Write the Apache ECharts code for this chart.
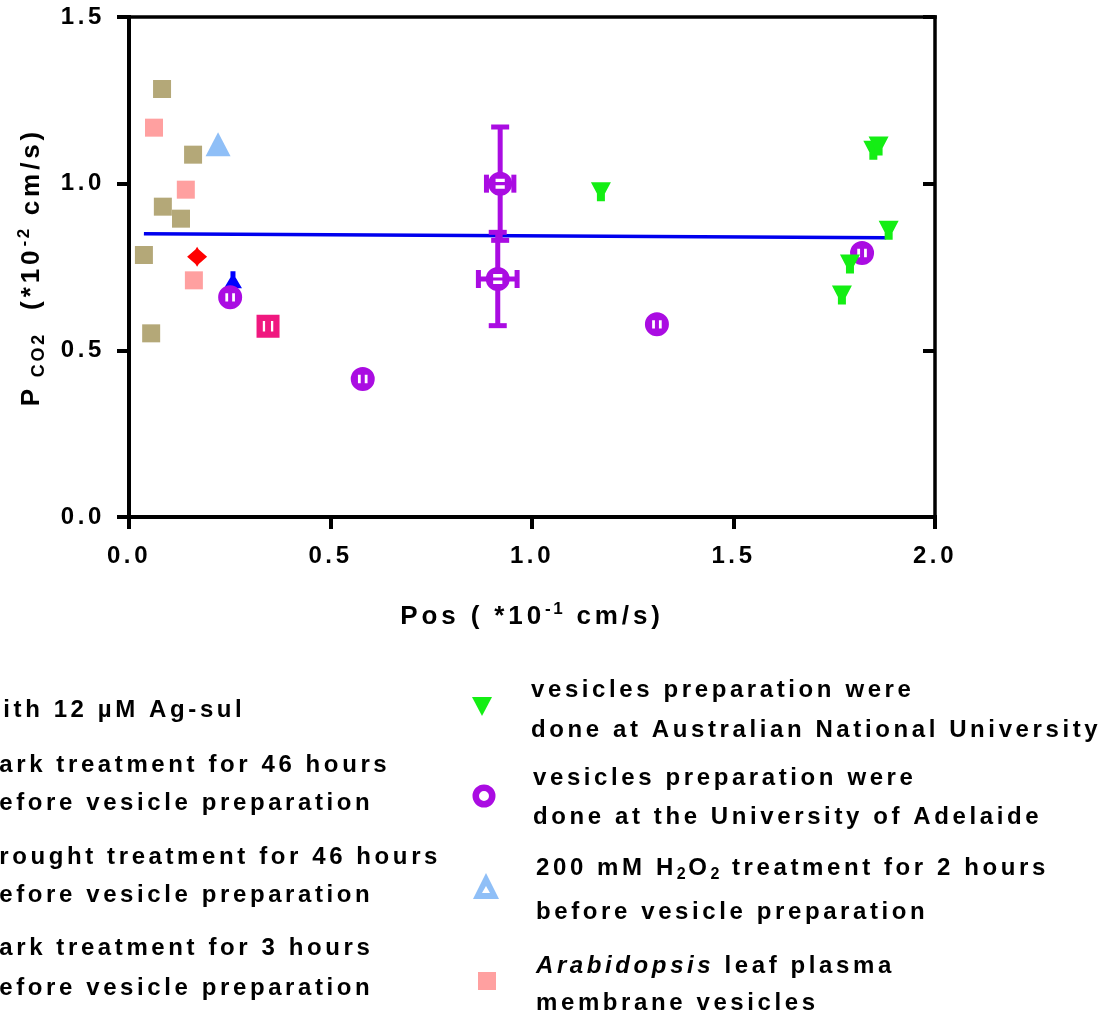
<!DOCTYPE html>
<html><head><meta charset="utf-8">
<script src="https://cdn.jsdelivr.net/npm/echarts@6/dist/echarts.min.js"></script>
<style>html,body{margin:0;padding:0;background:#fff;overflow:hidden}#c{width:1102px;height:1014px}</style>
</head><body><div id="c"></div>
<script>
// ---------- data ----------
const xTicks = [0, 0.5, 1.0, 1.5, 2.0];
const yTicks = [0, 0.5, 1.0, 1.5];
const tanPts = [[0.082,1.284],[0.159,1.087],[0.084,0.931],[0.129,0.895],[0.037,0.786],[0.055,0.551]];
const pinkPts = [[0.062,1.168],[0.141,0.982],[0.161,0.710]];
const h2o2Pts = [[0.221,1.118]];
const redPts = [[0.169,0.781]];
const bluePts = [[0.258,0.712]];
const magentaPts = [[0.345,0.572]];
const adelaidePts = [[0.251,0.659],[0.580,0.414],[1.310,0.578],[1.819,0.792]];
// x, y, x error, y error
const adelaideMeanPts = [[0.921,1.000,0.034,0.170],[0.915,0.714,0.048,0.140]];
const anuPts = [[1.171,0.976],[1.847,1.100],[1.860,1.113],[1.885,0.860],[1.789,0.759],[1.769,0.666]];
const fitLine = [[0.037,0.850],[1.878,0.838]];
const legendLeftLines = ["with 12 \u00b5M Ag-sul","dark treatment for 46 hours","before vesicle preparation","drought treatment for 46 hours","before vesicle preparation","dark treatment for 3 hours","before vesicle preparation"];
const legendRightLines = ["vesicles preparation were","done at Australian National University","vesicles preparation were","done at the University of Adelaide","200 mM H{sub|2}O{sub|2} treatment for 2 hours","before vesicle preparation","{i|Arabidopsis} leaf plasma","membrane vesicles"];

// ---------- styles ----------
const LS_EM = 0.15;
(function(){
  const P = CanvasRenderingContext2D.prototype;
  function setLS(ctx){
    const m = /(\d+(?:\.\d+)?)px/.exec(ctx.font);
    const size = m ? parseFloat(m[1]) : 12;
    try { ctx.letterSpacing = (size*LS_EM).toFixed(2)+'px'; } catch(e){}
  }
  const ft = P.fillText, st = P.strokeText, mt = P.measureText;
  P.fillText = function(){ setLS(this); return ft.apply(this, arguments); };
  P.strokeText = function(){ setLS(this); return st.apply(this, arguments); };
  P.measureText = function(){ setLS(this); return mt.apply(this, arguments); };
})();

const FF = '"Liberation Sans", Arial, sans-serif';
const FS = 24;
const TFS = 26;
const PURPLE = '#aa0ce2';
const ringVBar = 'path://M12 0A12 12 0 0 1 24 12A12 12 0 0 1 12 24A12 12 0 0 1 0 12A12 12 0 0 1 12 0Z M7.2 7.8L7.2 16.2L10 16.2L10 7.8Z M14 7.8L14 16.2L16.8 16.2L16.8 7.8Z';
const ringHBar = 'path://M12 0A12 12 0 0 1 24 12A12 12 0 0 1 12 24A12 12 0 0 1 0 12A12 12 0 0 1 12 0Z M7.4 7L7.4 10.4L16.6 10.4L16.6 7Z M7.4 13.6L7.4 17L16.6 17L16.6 13.6Z';
const squareII = 'path://M0 0L22 0L22 22L0 22Z M6 6L6 16L8.2 16L8.2 6Z M13.8 6L13.8 16L16 16L16 6Z';
const blueTri = 'path://M6.5 0L11.5 0L11.5 6L18 17L0 17L6.5 6Z';
const anuTri = 'path://M0 0L20 0L14 11.4L14 19L6 19L6 11.4Z';
const redDia = 'path://M9 0L10.5 2.5L18 9L10.5 15.5L9 18L7.5 15.5L0 9L7.5 2.5Z';

const chart = echarts.init(document.getElementById('c'), null, {renderer:'canvas'});

const axisLine = {show:true, onZero:false, lineStyle:{color:'#000', width:4, cap:'square'}};
const frameLine = {show:true, onZero:false, lineStyle:{color:'#000', width:3.5, cap:'square'}};
const lblStyle = {color:'#000', fontFamily:FF, fontWeight:'bold', fontSize:FS};
const titleStyle = {color:'#000', fontFamily:FF, fontWeight:'bold', fontSize:TFS, lineHeight:34};
const supStyle = {color:'#000', fontFamily:FF, fontWeight:'bold', fontSize:17, verticalAlign:'top', lineHeight:17};

function errRender(params, api){
  const x = api.value(0), y = api.value(1), ex = api.value(2), ey = api.value(3);
  const c = api.coord([x,y]);
  const t = api.coord([x,y+ey]), b = api.coord([x,y-ey]);
  const l = api.coord([x-ex,y]), r = api.coord([x+ex,y]);
  const R = 11, H = 9;
  const st = {stroke:PURPLE, lineWidth:5};
  const L = (x1,y1,x2,y2)=>({type:'line', shape:{x1,y1,x2,y2}, style:st});
  return {type:'group', children:[
    L(c[0],c[1]-R,c[0],t[1]), L(c[0],c[1]+R,c[0],b[1]),
    L(c[0]-H,t[1],c[0]+H,t[1]), L(c[0]-H,b[1],c[0]+H,b[1]),
    L(l[0],c[1],c[0]-R,c[1]), L(c[0]+R,c[1],r[0],c[1]),
    L(l[0],c[1]-H,l[0],c[1]+H), L(r[0],c[1]-H,r[0],c[1]+H)
  ]};
}

// legend graphics
const graphics = [];
const leftY = [710,765,803,857,895,948,988];
legendLeftLines.forEach((t,i)=>graphics.push({type:'text', x:-19, y:leftY[i], style:{text:t, fill:'#000', font:'bold '+FS+'px '+FF, verticalAlign:'middle'}}));
const rightY = [690,730,778,817,868,912,966,1003];
const rightX = [531,531,533,533,536,536,536,536];
const rich = {
  sub:{fontSize:16, fontWeight:'bold', fontFamily:FF, verticalAlign:'bottom', lineHeight:16, fill:'#000'},
  i:{fontSize:FS, fontWeight:'bold', fontStyle:'italic', fontFamily:FF, lineHeight:32, fill:'#000'}
};
legendRightLines.forEach((t,i)=>graphics.push({type:'text', x:rightX[i], y:rightY[i], style:{text:t, fill:'#000', font:'bold '+FS+'px '+FF, fontSize:FS, fontWeight:'bold', fontFamily:FF, lineHeight:32, verticalAlign:'middle', rich}}));
graphics.push({type:'polygon', shape:{points:[[472,697],[492,697],[482,716]]}, style:{fill:'#14ee14'}});
graphics.push({type:'ring', shape:{cx:484,cy:796,r:11.5,r0:5}, style:{fill:PURPLE}});
graphics.push({type:'polygon', shape:{points:[[486,873],[499,899],[473,899]]}, style:{fill:'#8fbff7'}});
graphics.push({type:'polygon', shape:{points:[[486,886],[490,893],[482,893]]}, style:{fill:'#fff'}});
graphics.push({type:'rect', shape:{x:478,y:972,width:18,height:18}, style:{fill:'#ffa0a0'}});

const option = {
  backgroundColor:'#fff',
  animation:false,
  grid:{left:129, right:167, top:17, bottom:497, containLabel:false},
  xAxis:[{
    type:'value', min:0, max:2, interval:0.5, position:'bottom',
    axisLine, axisTick:{show:true, length:12, lineStyle:{color:'#000', width:4}},
    splitLine:{show:false},
    axisLabel:Object.assign({margin:26, formatter:v=>xTicks.includes(v)?v.toFixed(1):''}, lblStyle),
    name:'{n|Pos ( *10}{sup|-1}{n| cm/s)}', nameLocation:'middle', nameGap:83,
    nameTextStyle:{rich:{n:titleStyle, sup:supStyle}}
  },{
    type:'value', min:0, max:2, interval:0.5, position:'top',
    axisLine:frameLine, axisTick:{show:false}, axisLabel:{show:false}, splitLine:{show:false}
  }],
  yAxis:[{
    type:'value', min:0, max:1.5, interval:0.5, position:'left',
    axisLine, axisTick:{show:true, length:12, lineStyle:{color:'#000', width:4}},
    splitLine:{show:false},
    axisLabel:Object.assign({margin:24, formatter:v=>yTicks.includes(v)?v.toFixed(1):''}, lblStyle),
    name:'{n|P}{sub| CO2}{n|  (*10}{sup|-2}{n| cm/s)}', nameLocation:'middle', nameGap:80, nameRotate:90,
    nameTextStyle:{rich:{n:titleStyle, sub:{color:'#000', fontFamily:FF, fontWeight:'bold', fontSize:18, verticalAlign:'bottom', lineHeight:26}, sup:supStyle}}
  },{
    type:'value', min:0, max:1.5, interval:0.5, position:'right',
    axisLine:frameLine,
    axisTick:{show:true, inside:true, length:12, lineStyle:{color:'#000', width:4}},
    axisLabel:{show:false}, splitLine:{show:false}
  }],
  graphic:graphics,
  series:[
    {type:'line', data:fitLine, symbol:'none', z:1, lineStyle:{color:'#0000ee', width:3.5}, silent:true},
    {type:'custom', data:adelaideMeanPts, renderItem:errRender, z:3, encode:{x:0,y:1}},
    {type:'scatter', data:tanPts, symbol:'rect', symbolSize:18, z:4, itemStyle:{color:'#b4a878', opacity:1}},
    {type:'scatter', data:pinkPts, symbol:'rect', symbolSize:18, z:4, itemStyle:{color:'#ffa0a0', opacity:1}},
    {type:'scatter', data:h2o2Pts, symbol:'triangle', symbolSize:[25,24], z:4, itemStyle:{color:'#8fbff7', opacity:1}},
    {type:'scatter', data:redPts, symbol:redDia, symbolSize:[20,20], z:4, itemStyle:{color:'#ff0000', opacity:1}},
    {type:'scatter', data:bluePts, symbol:blueTri, symbolSize:[18,17], z:4, itemStyle:{color:'#0000ff', opacity:1}},
    {type:'scatter', data:magentaPts, symbol:squareII, symbolSize:23, z:5, itemStyle:{color:'#f0187f', opacity:1}},
    {type:'scatter', data:adelaidePts, symbol:ringVBar, symbolSize:24, z:5, itemStyle:{color:PURPLE, opacity:1}},
    {type:'scatter', data:adelaideMeanPts.map(p=>[p[0],p[1]]), symbol:ringHBar, symbolSize:24, z:5, itemStyle:{color:PURPLE, opacity:1}},
    {type:'scatter', data:anuPts, symbol:anuTri, symbolSize:[20,19], z:5, itemStyle:{color:'#14ee14', opacity:1}}
  ]
};
chart.setOption(option);
</script></body></html>
